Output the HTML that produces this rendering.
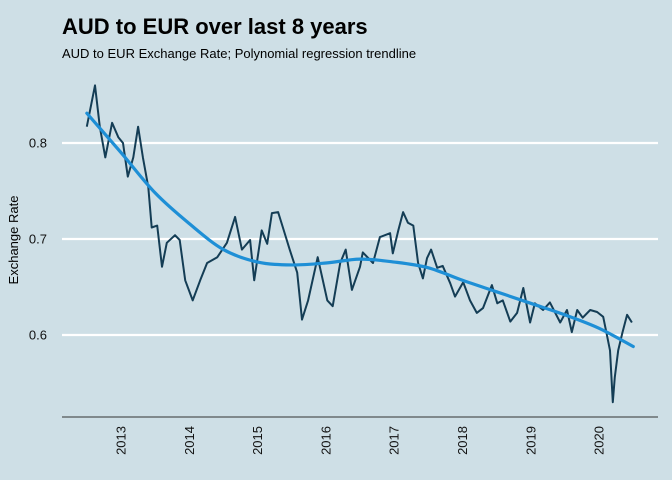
<!DOCTYPE html>
<html><head><meta charset="utf-8"><style>
html,body{margin:0;padding:0;background:#cedfe6;}
svg{display:block;font-family:"Liberation Sans",Arial,sans-serif;}
</style></head><body>
<svg id="chart" width="672" height="480">
<rect x="0" y="0" width="672" height="480" fill="#cedfe6"/>
<text x="62" y="34" font-size="22" font-weight="bold" fill="#000">AUD to EUR over last 8 years</text>
<text x="62" y="58" font-size="13" fill="#000">AUD to EUR Exchange Rate; Polynomial regression trendline</text>
<text transform="translate(18,240) rotate(-90)" text-anchor="middle" font-size="13" fill="#000">Exchange Rate</text>
<g id="grid"></g><g id="yticks"></g><g id="xticks"></g>
<line x1="62" y1="417" x2="658" y2="417" stroke="#333" stroke-width="1"/>
<g id="series"></g>
</svg>
<script>
const years=[2012.50,2012.62,2012.69,2012.77,2012.87,2012.96,2013.03,2013.10,2013.18,2013.25,2013.32,2013.40,2013.45,2013.53,2013.60,2013.67,2013.79,2013.86,2013.94,2014.05,2014.16,2014.26,2014.41,2014.55,2014.67,2014.77,2014.89,2014.95,2015.06,2015.14,2015.21,2015.30,2015.37,2015.47,2015.58,2015.65,2015.74,2015.88,2016.02,2016.10,2016.21,2016.29,2016.38,2016.50,2016.54,2016.69,2016.79,2016.94,2016.98,2017.06,2017.13,2017.20,2017.28,2017.35,2017.42,2017.48,2017.54,2017.63,2017.71,2017.82,2017.89,2018.01,2018.11,2018.21,2018.30,2018.43,2018.51,2018.59,2018.70,2018.80,2018.89,2018.99,2019.06,2019.18,2019.28,2019.43,2019.53,2019.60,2019.68,2019.76,2019.87,2019.97,2020.06,2020.12,2020.16,2020.20,2020.23,2020.28,2020.34,2020.41,2020.48];
const rates=[0.817,0.860,0.817,0.785,0.821,0.806,0.800,0.765,0.785,0.817,0.785,0.754,0.712,0.714,0.671,0.696,0.704,0.699,0.657,0.636,0.657,0.675,0.681,0.696,0.723,0.689,0.699,0.657,0.709,0.695,0.727,0.728,0.712,0.689,0.665,0.616,0.636,0.681,0.636,0.630,0.675,0.689,0.647,0.671,0.686,0.675,0.702,0.706,0.685,0.709,0.728,0.717,0.714,0.675,0.659,0.680,0.689,0.670,0.672,0.654,0.640,0.655,0.636,0.623,0.628,0.652,0.633,0.636,0.614,0.623,0.649,0.613,0.633,0.626,0.634,0.613,0.626,0.603,0.626,0.618,0.626,0.624,0.619,0.598,0.584,0.530,0.556,0.584,0.602,0.621,0.613];
const trendYears=[2012.5,2013,2013.5,2014,2014.5,2015,2015.5,2016,2016.5,2017,2017.5,2018,2018.5,2019,2019.5,2020,2020.5];
const trendRates=[0.831,0.790,0.748,0.716,0.689,0.676,0.673,0.675,0.679,0.676,0.670,0.657,0.645,0.633,0.621,0.607,0.588];
const yTicks=[0.6,0.7,0.8];
const xTicks=[2013,2014,2015,2016,2017,2018,2019,2020];
const NS="http://www.w3.org/2000/svg";
function X(y){return 121+(y-2013)*68.3;}
function Y(v){return 335-(v-0.6)*960;}
function mk(t,a,p){const e=document.createElementNS(NS,t);for(const k in a)e.setAttribute(k,a[k]);p.appendChild(e);return e;}
const grid=document.getElementById('grid'),yt=document.getElementById('yticks'),xt=document.getElementById('xticks'),se=document.getElementById('series');
yTicks.forEach(v=>{
 const l=mk('line',{x1:62,x2:658,y1:Y(v),y2:Y(v),stroke:'#fff','stroke-width':2.2},grid);
 
 
 const t=mk('text',{x:47,y:Y(v)+4.5,'text-anchor':'end','font-size':13,fill:'#111'},yt);
 t.textContent=v.toFixed(1);
 
 
});
xTicks.forEach(y=>{
 const t=mk('text',{transform:'translate('+(X(y)+4.5)+',426) rotate(-90)','text-anchor':'end','font-size':13,fill:'#111'},xt);
 t.textContent=y;
 
 
});
const raw=mk('polyline',{points:years.map((y,i)=>X(y).toFixed(1)+','+Y(rates[i]).toFixed(1)).join(' '),fill:'none',stroke:'#143d55','stroke-width':2,'stroke-linejoin':'round'},se);


const pts=trendYears.map((y,i)=>[X(y),Y(trendRates[i])]);
let d='M'+pts[0][0]+','+pts[0][1];
for(let i=0;i<pts.length-1;i++){const p0=pts[Math.max(0,i-1)],p1=pts[i],p2=pts[i+1],p3=pts[Math.min(pts.length-1,i+2)];
 d+=' C'+(p1[0]+(p2[0]-p0[0])/6)+','+(p1[1]+(p2[1]-p0[1])/6)+' '+(p2[0]-(p3[0]-p1[0])/6)+','+(p2[1]-(p3[1]-p1[1])/6)+' '+p2[0]+','+p2[1];}
const tr=mk('path',{d:d,fill:'none',stroke:'#1e8fd6','stroke-width':3.2,'stroke-linecap':'round'},se);


</script>
</body></html>
